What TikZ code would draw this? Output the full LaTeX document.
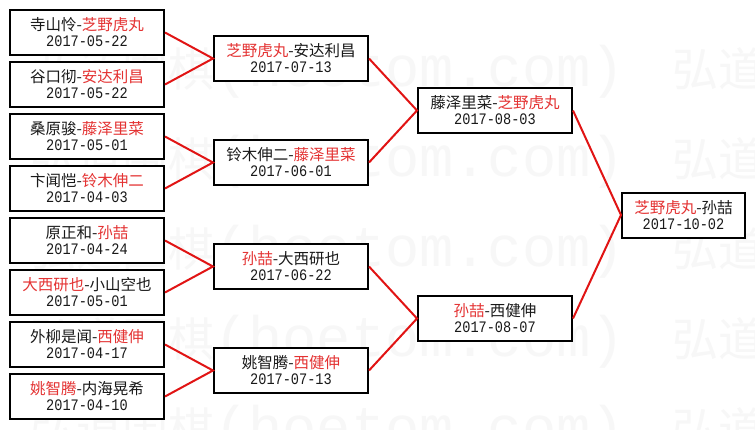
\documentclass[tikz,border=0pt]{standalone}
\usepackage{fontspec}
\setmainfont{Liberation Sans}
\newfontfamily\cjkfont{Noto Sans CJK SC}
\newfontfamily\datefont[FakeStretch=0.85]{Liberation Mono}
\newfontfamily\wmlat{Liberation Mono}
\definecolor{lred}{RGB}{225,20,20}
\definecolor{tred}{RGB}{228,50,50}
\definecolor{tblk}{RGB}{25,25,25}
\definecolor{wmgray}{RGB}{247,247,247}
\tikzset{
  gbox/.style={rectangle, draw=black, line width=2pt, fill=white, minimum height=45pt, inner sep=0pt},
  tline/.style={anchor=base, inner sep=0pt, text=tblk, font=\cjkfont\fontsize{15.5}{15.5}\selectfont},
  dline/.style={anchor=base, inner sep=0pt, text=tblk, font=\datefont\fontsize{16}{16}\selectfont},
  link/.style={draw=lred, line width=2pt},
  wmark/.style={anchor=base west, inner sep=0pt, text=wmgray},
}
\newcommand\rd[1]{\textcolor{tred}{#1}}
\newcommand\gamebox[6]{%
  \node[gbox, minimum width=#4] (#1) at (#2,#3) {};
  \node[tline] (#1n) at ([yshift=2pt]#1.center) {#5};
  \node[dline] (#1d) at ([yshift=-14.3pt]#1.center) {#6};
}
\newcommand\wmunit{{\cjkfont\fontsize{46}{46}\selectfont 弘道围棋}{\wmlat\fontsize{57}{57}\selectfont (hoetom.com)}\hspace{48pt}}
\begin{document}
\begin{tikzpicture}[x=1pt,y=-1pt]
\useasboundingbox (0,0) rectangle (755,429);
\fill[white] (0,0) rectangle (755,429);
% watermark
\begin{scope}
  \clip (0,0) rectangle (755,429);
  \foreach \k/\yy in {0/86,1/176,2/266,3/356,4/446}
    \node[wmark] (wm\k) at (30,\yy) {\wmunit\wmunit};
\end{scope}
% first round
\gamebox{a1}{87}{32.5}{154}{寺山怜-\rd{芝野虎丸}}{2017-05-22}
\gamebox{a2}{87}{84.5}{154}{谷口彻-\rd{安达利昌}}{2017-05-22}
\gamebox{a3}{87}{136.5}{154}{桑原骏-\rd{藤泽里菜}}{2017-05-01}
\gamebox{a4}{87}{188.5}{154}{卞闻恺-\rd{铃木伸二}}{2017-04-03}
\gamebox{a5}{87}{240.5}{154}{原正和-\rd{孙喆}}{2017-04-24}
\gamebox{a6}{87}{292.5}{154}{\rd{大西研也}-小山空也}{2017-05-01}
\gamebox{a7}{87}{344.5}{154}{外柳是闻-\rd{西健伸}}{2017-04-17}
\gamebox{a8}{87}{396.5}{154}{\rd{姚智腾}-内海晃希}{2017-04-10}
% second round
\gamebox{b1}{291}{58.5}{154}{\rd{芝野虎丸}-安达利昌}{2017-07-13}
\gamebox{b2}{291}{162.5}{154}{铃木伸二-\rd{藤泽里菜}}{2017-06-01}
\gamebox{b3}{291}{266.5}{154}{\rd{孙喆}-大西研也}{2017-06-22}
\gamebox{b4}{291}{370.5}{154}{姚智腾-\rd{西健伸}}{2017-07-13}
% third round
\gamebox{c1}{495}{110.5}{154}{藤泽里菜-\rd{芝野虎丸}}{2017-08-03}
\gamebox{c2}{495}{318.5}{154}{\rd{孙喆}-西健伸}{2017-08-07}
% final
\gamebox{d1}{683.5}{215}{123}{\rd{芝野虎丸}-孙喆}{2017-10-02}
% links
\draw[link] (a1.east) -- (b1.west) -- (a2.east);
\draw[link] (a3.east) -- (b2.west) -- (a4.east);
\draw[link] (a5.east) -- (b3.west) -- (a6.east);
\draw[link] (a7.east) -- (b4.west) -- (a8.east);
\draw[link] (b1.east) -- (c1.west) -- (b2.east);
\draw[link] (b3.east) -- (c2.west) -- (b4.east);
\draw[link] (c1.east) -- (d1.west) -- (c2.east);
\end{tikzpicture}
\end{document}
